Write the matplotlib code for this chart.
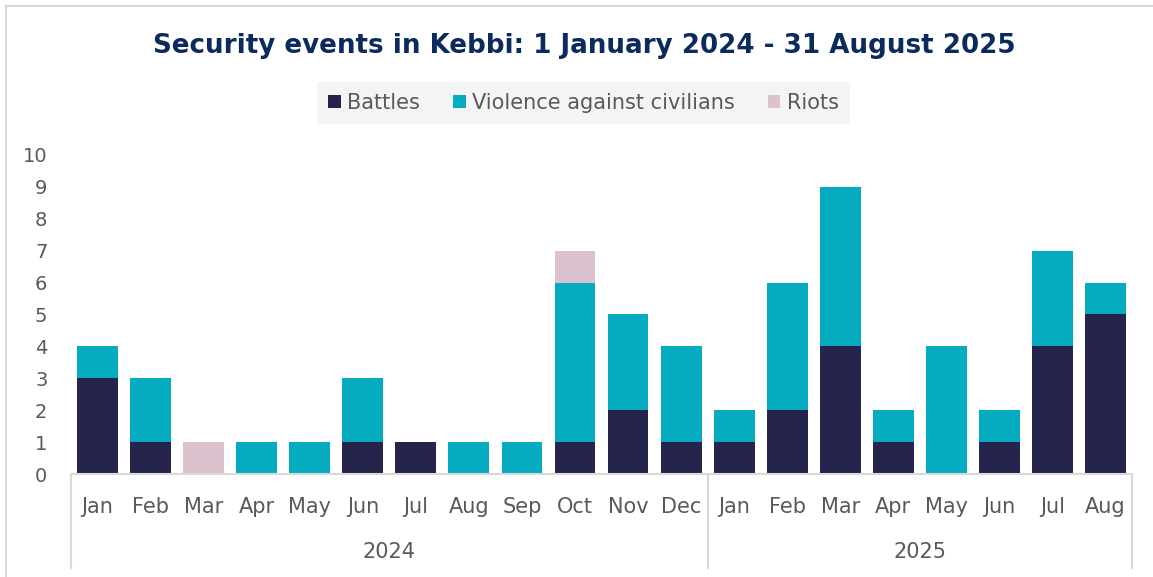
import numpy as np
import matplotlib.pyplot as plt
from matplotlib.lines import Line2D
import matplotlib.transforms as mtransforms

# Data: security events per month in Kebbi
months = ['Jan', 'Feb', 'Mar', 'Apr', 'May', 'Jun', 'Jul', 'Aug', 'Sep', 'Oct', 'Nov', 'Dec',
          'Jan', 'Feb', 'Mar', 'Apr', 'May', 'Jun', 'Jul', 'Aug']
years = ['2024', '2025']
year_counts = [12, 8]
battles = [3, 1, 0, 0, 0, 1, 1, 0, 0, 1, 2, 1, 1, 2, 4, 1, 0, 1, 4, 5]
violence = [1, 2, 0, 1, 1, 2, 0, 1, 1, 5, 3, 3, 1, 4, 5, 1, 4, 1, 3, 1]
riots = [0, 0, 1, 0, 0, 0, 0, 0, 0, 1, 0, 0, 0, 0, 0, 0, 0, 0, 0, 0]

c_bat = '#25244c'
c_vio = '#05abbf'
c_riot = '#dcc1cf'
grey_txt = '#595959'
line_c = '#d9d9d9'

fig = plt.figure(figsize=(11.53, 5.77), dpi=100)
ax = fig.add_axes([0.0616, 0.1785, 0.9202, 0.553])

x = np.arange(len(months))
w = 0.77
b1 = ax.bar(x, battles, w, color=c_bat, label='Battles')
b2 = ax.bar(x, violence, w, bottom=battles, color=c_vio, label='Violence against civilians')
bottom2 = np.array(battles) + np.array(violence)
b3 = ax.bar(x, riots, w, bottom=bottom2, color=c_riot, label='Riots')

ax.set_xlim(-0.5, len(months) - 0.5)
ax.set_ylim(0, 10)
ax.set_yticks(range(0, 11))
ax.tick_params(axis='y', length=0, pad=17, labelsize=14, labelcolor=grey_txt)
ax.set_xticks([])
for s in ['top', 'right', 'left']:
    ax.spines[s].set_visible(False)
ax.spines['bottom'].set_color(line_c)
ax.spines['bottom'].set_linewidth(1.5)

# multi-level category axis
trans = mtransforms.blended_transform_factory(ax.transData, fig.transFigure)
for i, m in enumerate(months):
    ax.text(i, 1 - 507 / 577, m, transform=trans, ha='center', va='center',
            fontsize=15, color=grey_txt)
start = -0.5
for yr, n in zip(years, year_counts):
    ax.text(start + n / 2, 1 - 552 / 577, yr, transform=trans, ha='center', va='center',
            fontsize=15, color=grey_txt)
    start += n
for xb in [-0.5, 11.5, len(months) - 0.5]:
    ax.add_line(Line2D([xb, xb], [1 - 474 / 577, 1 - 568 / 577], transform=trans,
                       color=line_c, lw=1.5, clip_on=False))

fig.text(0.507, 1 - 46 / 577, 'Security events in Kebbi: 1 January 2024 - 31 August 2025',
         ha='center', va='center', fontsize=18.8, fontweight='bold', color='#0d2a5e')

leg = fig.legend(handles=[b1, b2, b3], loc='center', bbox_to_anchor=(0.506, 1 - 103 / 577),
                 ncol=3, frameon=True, facecolor='#f2f2f2', edgecolor='none', fancybox=False,
                 fontsize=15, handlelength=0.6, handleheight=0.6, handletextpad=0.3,
                 columnspacing=1.6, borderpad=0.55)
for t in leg.get_texts():
    t.set_color(grey_txt)

# outer border (top and left only, as in the cropped source)
fig.add_artist(Line2D([6 / 1153, 1], [1 - 6 / 577, 1 - 6 / 577], transform=fig.transFigure,
                      color=line_c, lw=1.5))
fig.add_artist(Line2D([6 / 1153, 6 / 1153], [0, 1 - 6 / 577], transform=fig.transFigure,
                      color=line_c, lw=1.5))

fig.savefig('out.png', dpi=100)
